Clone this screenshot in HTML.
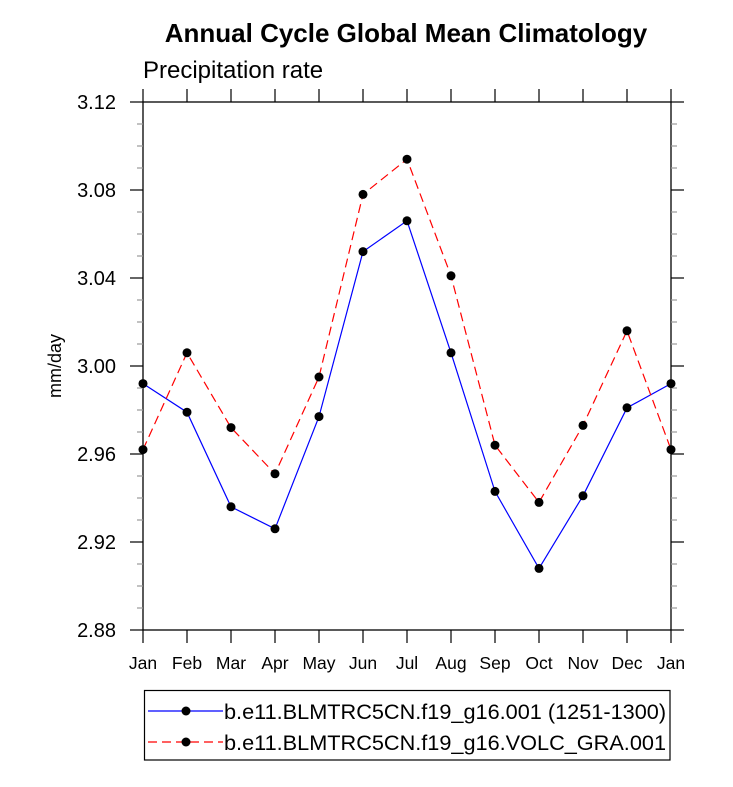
<!DOCTYPE html>
<html><head><meta charset="utf-8"><style>
body{margin:0;background:#fff;}
svg text{font-family:"Liberation Sans",Arial,sans-serif;}
</style></head><body>
<svg id="chart" width="733" height="782" xmlns="http://www.w3.org/2000/svg">
<text x="406" y="42" text-anchor="middle" font-size="26" font-weight="bold">Annual Cycle Global Mean Climatology</text>
<text x="143" y="78" font-size="24">Precipitation rate</text>
<text transform="translate(61,366) rotate(-90)" text-anchor="middle" font-size="18">mm/day</text>
<rect x="143" y="102" width="528" height="528" fill="none" stroke="#000" stroke-width="1.3"/>
<g id="axes"></g>
<g id="series"></g>
<g>
<rect x="144.5" y="690.5" width="525.5" height="69.5" fill="none" stroke="#000" stroke-width="1.2"/>
<line x1="148" y1="711" x2="223" y2="711" stroke="#0000ff" stroke-width="1.2"/>
<circle cx="186" cy="711" r="4.5" fill="#000"/>
<text x="224" y="719" font-size="21.7">b.e11.BLMTRC5CN.f19_g16.001 (1251-1300)</text>
<line x1="148" y1="742" x2="223" y2="742" stroke="#ff0000" stroke-width="1.2" stroke-dasharray="9,5"/>
<circle cx="186" cy="742" r="4.5" fill="#000"/>
<text x="224" y="750" font-size="21.7">b.e11.BLMTRC5CN.f19_g16.VOLC_GRA.001</text>
</g>
</svg>
<script>
const months=["Jan","Feb","Mar","Apr","May","Jun","Jul","Aug","Sep","Oct","Nov","Dec","Jan"];
const seriesBlue=[2.992,2.979,2.936,2.926,2.977,3.052,3.066,3.006,2.943,2.908,2.941,2.981,2.992];
const seriesRed=[2.962,3.006,2.972,2.951,2.995,3.078,3.094,3.041,2.964,2.938,2.973,3.016,2.962];
const yTicks=["2.88","2.92","2.96","3.00","3.04","3.08","3.12"];
const X0=143,X1=671,Y0=630,Y1=102,YMIN=2.88,YMAX=3.12;
const xs=i=>X0+(X1-X0)*i/(months.length-1);
const ys=v=>Y0-(v-YMIN)/(YMAX-YMIN)*(Y0-Y1);
const NS="http://www.w3.org/2000/svg";
function mk(tag,attrs,parent){const e=document.createElementNS(NS,tag);for(const k in attrs)e.setAttribute(k,attrs[k]);parent.appendChild(e);return e;}
const ax=document.getElementById('axes');
months.forEach((m,i)=>{
 const x=xs(i);
 let t=mk('line',{x1:x,y1:Y0,x2:x,y2:Y0+13,stroke:'#000','stroke-width':1.2},ax);
 
 
 t=mk('line',{x1:x,y1:Y1,x2:x,y2:Y1-13,stroke:'#000','stroke-width':1.2},ax);
 
 
 const l=mk('text',{x:x,y:669,'text-anchor':'middle','font-size':17.5},ax);
 l.textContent=m;
 
 
});
for(let v=YMIN;v<=YMAX+1e-9;v+=0.01){
 const y=ys(v);const major=Math.abs((v-YMIN)/0.04-Math.round((v-YMIN)/0.04))<1e-6;const len=major?13:6;
 let t=mk('line',{x1:X0,y1:y,x2:X0-len,y2:y,stroke:major?'#000':'#999','stroke-width':1.2},ax);
 
 
 t=mk('line',{x1:X1,y1:y,x2:X1+len,y2:y,stroke:major?'#000':'#999','stroke-width':1.2},ax);
 
 
}
yTicks.forEach(s=>{
 const l=mk('text',{x:116,y:ys(parseFloat(s))+7,'text-anchor':'end','font-size':20},ax);
 l.textContent=s;
 
 
});
const sg=document.getElementById('series');
function draw(vals,color,dash,name){
 const p=mk('polyline',{points:vals.map((v,i)=>xs(i)+','+ys(v)).join(' '),fill:'none',stroke:color,'stroke-width':1.2},sg);
 if(dash)p.setAttribute('stroke-dasharray',dash);
 
 
 vals.forEach((v,i)=>{
  const c=mk('circle',{cx:xs(i),cy:ys(v),r:4.5,fill:'#000'},sg);
  
  
 });
}
draw(seriesBlue,'#0000ff',null,'blue-series');
draw(seriesRed,'#ff0000','9,5','red-series');
</script>
</body></html>
